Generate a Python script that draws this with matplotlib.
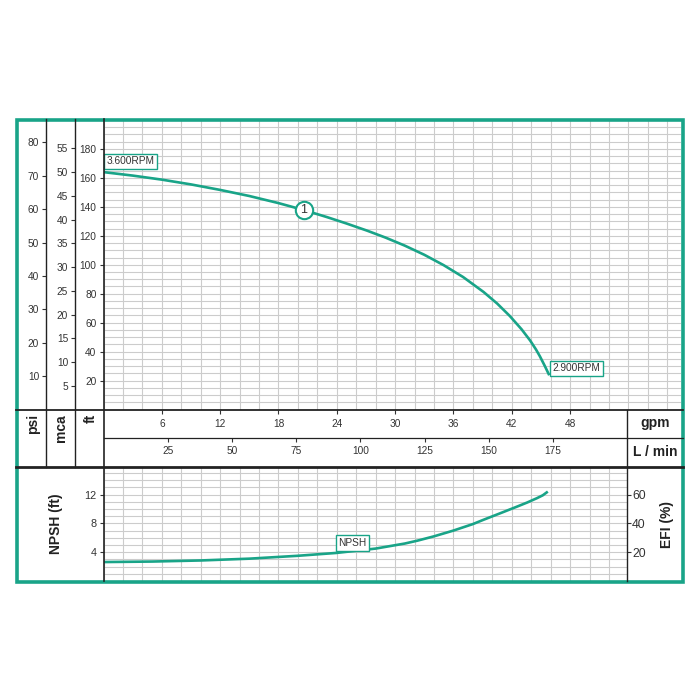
import matplotlib
matplotlib.use("Agg")
import matplotlib.pyplot as plt
from matplotlib.patches import Rectangle
import numpy as np

plt.rcParams["font.family"] = ["Liberation Sans", "DejaVu Sans"]

# head curve (gpm, ft)
head_gpm = [0, 3, 6, 9, 12, 15, 18, 20.6, 23, 25, 27.1, 29, 31, 33, 35, 37,
            39.1, 40.5, 41.8, 43, 43.9, 44.5, 44.9, 45.4, 45.8]
head_ft = [164, 161.6, 158.8, 155.5, 151.7, 147.5, 142.6, 137.8, 132.9, 128.5,
           123.6, 118.8, 113.2, 106.9, 99.7, 91.5, 81.2, 73.2, 64.6, 55.5,
           47.6, 41.4, 36.7, 30.1, 24.5]

# NPSH curve (gpm, ft)
npsh_gpm = [0, 5, 10, 15, 20, 24, 28, 31, 32.3, 34, 36, 38, 39.1, 41, 42.5,
            43.6, 44.6, 45.2, 45.6]
npsh_ft = [2.63, 2.7, 2.85, 3.1, 3.5, 3.9, 4.5, 5.2, 5.6, 6.2, 7.0, 7.9, 8.5,
           9.5, 10.3, 10.9, 11.5, 11.9, 12.3]

gpm_ticks = [6, 12, 18, 24, 30, 36, 42, 48]
lmin_ticks = [25, 50, 75, 100, 125, 150, 175]
ft_ticks = [20, 40, 60, 80, 100, 120, 140, 160, 180]
psi_ticks = [10, 20, 30, 40, 50, 60, 70, 80]
mca_ticks = [5, 10, 15, 20, 25, 30, 35, 40, 45, 50, 55]
npsh_ticks = [4, 8, 12]
efi_ticks = [20, 40, 60]

teal = "#19a488"
ink = "#222222"
txt = "#333333"
gridc = "#cccccc"
fs = 7.3

W = 700.0


def px(l, t, r, b):
    return [l / W, 1 - b / W, (r - l) / W, (b - t) / W]


fig = plt.figure(figsize=(7, 7), dpi=100)

# ---- upper chart (head)
ax = fig.add_axes(px(103.5, 120, 681, 409.5))
ax.set_xlim(0, (681 - 103.5) / 9.72)
ax.set_ylim(0, 200)
ax.set_xticks(gpm_ticks)
ax.set_xticks(np.arange(0, 60, 2), minor=True)
ax.set_yticks(ft_ticks)
ax.set_yticks(np.arange(0, 200, 5), minor=True)
ax.grid(which="both", color=gridc, lw=0.8)
ax.set_axisbelow(True)
ax.tick_params(which="major", direction="out", length=3, width=0.8,
               color=txt, labelcolor=txt, labelsize=fs, pad=2)
ax.tick_params(axis="x", pad=4)
ax.tick_params(which="minor", length=0)
for s in ax.spines.values():
    s.set_visible(False)

ax.plot(head_gpm, head_ft, color=teal, lw=1.9, zorder=3)

# psi / mca scales
psi = ax.secondary_yaxis((46 - 103.5) / 577.5,
                         functions=(lambda f: f / 2.307, lambda p: p * 2.307))
mca = ax.secondary_yaxis((75 - 103.5) / 577.5,
                         functions=(lambda f: f / 3.281, lambda m: m * 3.281))
for sa, tk in [(psi, psi_ticks), (mca, mca_ticks)]:
    sa.set_yticks(tk)
    sa.tick_params(direction="out", length=3, width=0.8, color=txt,
                   labelcolor=txt, labelsize=fs, pad=2)
    for s in sa.spines.values():
        s.set_visible(False)

# L/min scale
lmin = ax.secondary_xaxis((409.5 - 438) / 289.5,
                          functions=(lambda g: g * 3.785, lambda l: l / 3.785))
lmin.set_xticks(lmin_ticks)
lmin.tick_params(direction="out", length=3, width=0.8, color=txt,
                 labelcolor=txt, labelsize=fs, pad=3)
for s in lmin.spines.values():
    s.set_visible(False)

box = dict(boxstyle="square,pad=0.25", fc="white", ec=teal, lw=1)
ax.annotate("3.600RPM", xy=(head_gpm[0], head_ft[0]), xytext=(3, 11),
            textcoords="offset pixels", ha="left", va="center",
            fontsize=fs, color=txt, bbox=box, zorder=5)
ax.annotate("2.900RPM", xy=(head_gpm[-1], head_ft[-1]), xytext=(4, 6),
            textcoords="offset pixels", ha="left", va="center",
            fontsize=fs, color=txt, bbox=box, zorder=5)
ax.plot(head_gpm[7], head_ft[7], "o", ms=12.5, mfc="white", mec=teal,
        mew=1.5, zorder=4)
ax.text(head_gpm[7], head_ft[7], "1", ha="center", va="center",
        fontsize=9, color=txt, zorder=5)

# ---- lower chart (NPSH)
ax2 = fig.add_axes(px(103.5, 467, 626.5, 581))
ax2.set_xlim(0, (626.5 - 103.5) / 9.72)
ax2.set_ylim((582.5 - 581) / 7.3, (582.5 - 467) / 7.3)
ax2.set_xticks(np.arange(0, 54, 2))
ax2.set_yticks(npsh_ticks)
ax2.set_yticks(np.arange(0, 16, 1), minor=True)
ax2.grid(which="both", color=gridc, lw=0.8)
ax2.set_axisbelow(True)
ax2.tick_params(axis="x", length=0, labelbottom=False)
ax2.tick_params(axis="y", which="major", direction="out", length=3, width=0.8,
                color=txt, labelcolor=txt, labelsize=7.8, pad=2)
ax2.tick_params(which="minor", length=0)
for s in ax2.spines.values():
    s.set_visible(False)

ax2.plot(npsh_gpm, npsh_ft, color=teal, lw=1.9, zorder=3)
ax2.text(25.6, 5.27, "NPSH", ha="center", va="center", fontsize=fs,
         color=txt, bbox=box, zorder=5)

efi = ax2.secondary_yaxis("right", functions=(lambda f: f * 5, lambda e: e / 5))
efi.set_yticks(efi_ticks)
efi.tick_params(direction="out", length=3, width=0.8, color=txt,
                labelcolor=txt, labelsize=8.8, pad=1)
for s in efi.spines.values():
    s.set_visible(False)

# ---- frame, dividers and titles
bg = fig.add_axes([0, 0, 1, 1], zorder=10)
bg.set_xlim(0, W)
bg.set_ylim(W, 0)
bg.axis("off")

bg.plot([16, 683], [409.5, 409.5], color=ink, lw=1.3)
bg.plot([103.5, 683], [438, 438], color=ink, lw=0.9)
bg.plot([16, 683], [467, 467], color=ink, lw=2)
bg.plot([46, 46], [119, 467], color=ink, lw=1)
bg.plot([75, 75], [119, 467], color=ink, lw=1)
bg.plot([103.5, 103.5], [119, 581], color=ink, lw=1.2)
bg.plot([626.5, 626.5], [409.5, 581], color=ink, lw=1)
bg.add_patch(Rectangle((16.5, 119.5), 666, 462.5, fill=False, ec=teal, lw=2.6))

lab = dict(fontsize=10, fontweight="bold", color=ink)
bg.text(33, 414, "psi", rotation=90, ha="center", va="top", **lab)
bg.text(61, 414, "mca", rotation=90, ha="center", va="top", **lab)
bg.text(91, 414, "ft", rotation=90, ha="center", va="top", **lab)
bg.text(655, 423, "gpm", ha="center", va="center", **lab)
bg.text(655, 452, "L / min", ha="center", va="center", **lab)
bg.text(56, 524, "NPSH (ft)", rotation=90, ha="center", va="center", **lab)
bg.text(667, 524, "EFI (%)", rotation=90, ha="center", va="center", **lab)

fig.savefig("out.png", dpi=100, facecolor="white")
